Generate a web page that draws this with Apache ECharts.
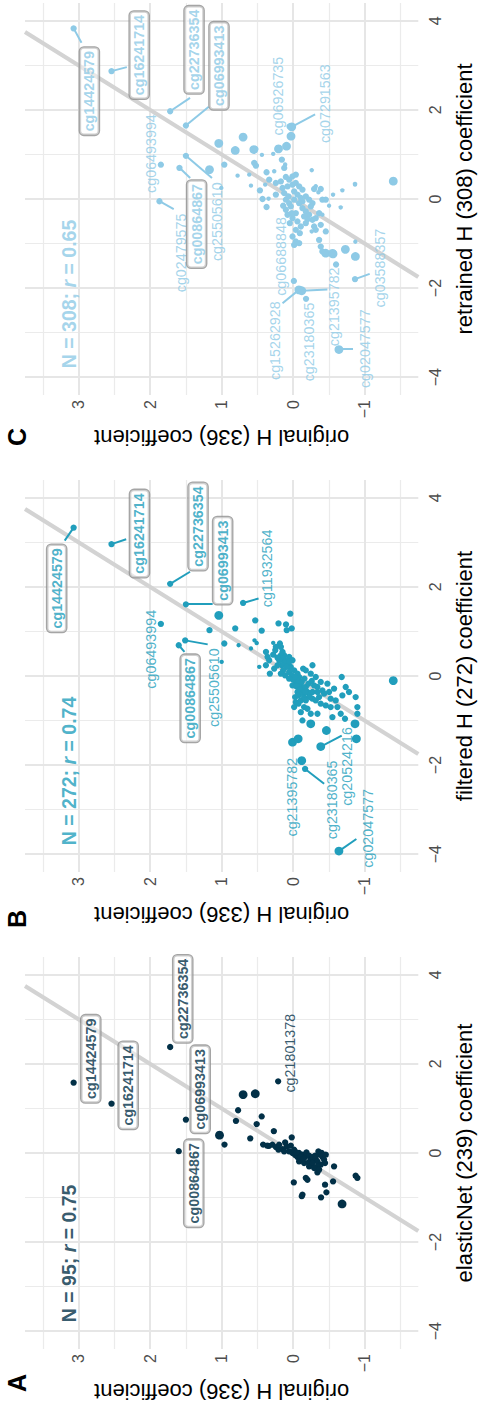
<!DOCTYPE html>
<html>
<head>
<meta charset="utf-8">
<script src="https://cdn.jsdelivr.net/npm/echarts@6/dist/echarts.min.js"></script>
<style>
html,body{margin:0;padding:0;background:#fff;}
#wrap{position:absolute;left:0;top:0;width:478px;height:1407px;overflow:hidden;background:#fff;}
#chart{position:absolute;left:0;top:0;width:1407px;height:478px;transform-origin:0 0;transform:translate(0,1407px) rotate(-90deg);}
</style>
</head>
<body>
<div id="wrap"><div id="chart"></div></div>
<script>
// ---------- DATA ----------
// Each point: [model coefficient (x), original H (336) coefficient (y), size class]
const pointsA = [
  [1.58,3.07,2],[1.11,2.54,2],[2.38,1.72,2],[0.75,1.50,2],[0.04,1.60,2],[1.61,0.21,2],
  [1.31,0.70,3],[1.33,0.53,3],[0.96,0.77,2],[0.72,0.80,2],[0.82,0.44,2],[0.65,0.51,2],
  [0.40,1.03,3],[0.19,0.96,2],[0.33,0.60,2],[0.49,0.27,2],[0.35,0.02,2],[0.19,0.42,2],
  [0.16,0.34,2],[0.186,0.29,2],[0.164,0.363,2],
  [0.134,0.242,2],[0.074,0.205,2],[0.089,0.149,2],[0.239,0.112,2],[0.149,0.089,2],[0.037,0.056,2],
  [0.0,0.009,2],[-0.045,-0.028,2],[-0.09,-0.06,2],[0.0,-0.083,2],[-0.038,-0.13,2],[-0.09,-0.167,2],
  [0.015,-0.186,2],[-0.06,-0.223,2],[-0.15,-0.246,2],[-0.09,-0.279,2],[-0.135,-0.316,2],[-0.187,-0.339,2],
  [-0.038,-0.376,2],[-0.09,-0.409,2],[-0.15,-0.432,2],[-0.225,-0.446,2],[-0.262,-0.386,2],[-0.3,-0.339,2],
  [-0.038,-0.456,2],[0.0,-0.4,2],[-0.3,-0.572,2],[-0.187,-0.083,2],[-0.225,-0.153,2],[-0.3,-0.223,2],
  [-0.56,-0.177,2],[-0.6,-0.2,2],[-0.658,-0.009,2],[-0.935,-0.13,2],[-0.97,-0.12,2],[-0.434,-0.339,2],
  [-0.71,-0.446,2],[-0.995,-0.39,2],[-0.882,-0.465,2],[-0.636,-0.558,2],[-0.509,-0.874,2],[-0.56,-0.898,2],
  [-1.144,-0.684,3],[0.037,0.126,2],[0.186,0.196,2],[0.164,0.033,2],[0.074,-0.014,2],[0.015,-0.046,2],
  [-0.09,-0.107,2],[-0.135,-0.139,2],[-0.21,-0.214,2],[-0.225,-0.27,2],[-0.337,-0.293,2],[-0.374,-0.363,2],
  [-0.06,-0.307,2],[0.037,-0.353,2]
];
const pointsB = [
  [3.33,3.07,2],[2.96,2.54,2],[2.07,1.72,2],[1.61,1.50,2],[1.64,0.70,2],[1.17,1.85,2],
  [1.36,1.04,3],[1.03,1.17,2],[1.07,0.81,2],[1.25,0.53,2],[1.02,0.44,2],[1.40,0.04,2],
  [1.18,0.205,2],[1.16,0.10,2],[1.03,0.09,2],[1.07,0.02,2],[0.80,1.51,2],[0.69,1.60,2],
  [0.73,0.963,2],[0.316,1.0,1],[0.69,0.763,1],[0.617,0.59,1],[0.80,0.54,1],[0.74,0.51,1],
  [0.204,0.474,1],[0.541,0.38,2],[0.744,0.279,1],[0.58,0.25,2],[0.73,0.186,2],[0.654,0.172,2],
  [0.54,0.149,2],[0.43,0.358,2],[0.053,0.326,2],[0.466,0.126,2],[0.43,0.056,2],[0.354,0.009,2],
  [0.354,0.102,2],[0.278,0.079,2],[0.203,0.033,2],[0.128,-0.014,2],[0.053,-0.06,2],[-0.022,-0.084,2],
  [-0.134,-0.037,2],[-0.209,0.009,2],[-0.209,-0.107,2],[-0.284,-0.13,2],[-0.247,-0.177,2],[-0.359,-0.2,2],
  [-0.359,-0.06,2],[-0.472,-0.028,2],[-0.547,-0.107,2],[-0.472,-0.153,2],[-0.397,-0.223,2],[-0.51,-0.27,2],
  [-0.547,-0.316,2],[-0.247,-0.339,2],[0.053,-0.246,2],[0.128,-0.177,2],[0.166,-0.14,2],[0.241,-0.27,2],
  [-0.022,-0.316,2],[-0.134,-0.386,2],[-0.322,-0.409,2],[-0.172,-0.479,2],[-0.359,-0.502,2],[-0.51,-0.525,2],
  [-0.284,-0.572,2],[-0.022,-0.679,2],[-0.434,-0.688,2],[-0.359,-0.781,2],[-0.247,-0.735,2],
  [-0.81,-0.107,2],[-0.697,-0.153,2],[-0.735,-0.2,2],[-0.847,-0.246,2],[-0.998,-0.13,2],[-1.073,-0.246,3],
  [-0.847,-0.34,2],[-1.223,-0.465,3],[-0.922,-0.549,2],[-0.96,-0.725,2],[-1.073,-0.865,3],[-0.847,-0.898,2],
  [-1.41,-0.884,3],[-0.472,-0.874,2],[-0.697,-0.898,2],[-1.486,0.009,3],[-1.41,-0.07,3],[-1.90,-0.12,3],
  [-2.086,-0.167,2],[-1.584,-0.386,3],[-0.104,-1.40,3],[-3.93,-0.64,3],
  [0.466,0.172,2],[0.391,0.149,2],[0.316,0.126,2],[0.354,0.195,2],[0.241,0.158,2],[0.316,0.056,2],
  [0.203,0.093,2],[0.09,0.056,2],[0.015,0.019,2],[-0.06,0.056,2],[-0.082,0.0,2],[-0.022,-0.028,2],
  [-0.112,-0.074,2],[-0.232,-0.046,2],[-0.307,-0.093,2],[-0.435,-0.074,2],[-0.382,-0.13,2],[-0.359,-0.167,2],
  [-0.134,-0.12,2],[-0.06,-0.158,2],[-0.172,-0.214,2],[-0.112,-0.26,2],[-0.209,-0.293,2],[-0.359,-0.27,2],
  [-0.472,-0.232,2],[-0.547,-0.177,2],[-0.585,-0.037,2],[-0.697,-0.014,2],[-0.622,-0.074,2],[-0.359,-0.34,2],
  [-0.472,-0.363,2],[-0.397,-0.433,2],[-0.622,-0.386,2],[-0.66,-0.456,2],[-0.697,-0.525,2],[-0.547,-0.595,2],
  [-0.697,-0.619,2],[-0.847,-0.665,2],[0.654,0.242,2],[0.48,0.279,2],[0.414,0.219,2],[0.354,0.335,2],
  [0.241,0.219,2],[0.166,0.265,2],[0.128,0.14,2],[0.053,0.172,2],[0.015,0.112,2],[0.241,0.381,2]
];
const pointsC = [
  [3.83,3.07,2],[2.87,2.54,2],[1.97,1.72,2],[1.65,1.50,2],[0.77,1.85,2],[-0.05,1.87,2],
  [0.70,1.59,2],[0.97,1.50,2],[0.66,1.17,3],[1.25,1.04,3],[1.09,0.81,3],[1.39,0.70,3],
  [1.11,0.55,3],[1.125,0.53,2],[1.62,0.02,3],[1.63,0.05,2],[1.41,0.03,3],[-1.84,-0.01,2],
  [-2.04,-0.08,3],[-2.06,-0.12,3],[-2.24,-0.18,2],[-3.38,-0.64,3],[-1.80,-0.865,2],[0.40,-1.40,3],
  [0.34,-0.865,1],[-1.29,-0.87,3],[-1.13,-0.73,3],[-1.47,-0.60,2],[-1.22,-0.55,3],[-0.96,-0.87,1],
  [0.81,0.544,2],[0.99,0.437,1],[1.013,0.279,1],[1.125,0.205,3],[1.185,0.093,3],[0.885,0.158,2],
  [0.773,0.112,1],[0.773,0.963,2],[0.247,1.005,1],[0.525,0.777,1],[0.75,0.521,2],[0.547,0.614,1],
  [0.6,0.372,2],[0.622,0.265,1],[0.697,0.125,2],[0.645,-0.26,1],[0.3,0.59,1],[0.194,0.465,2],
  [0.322,0.391,1],[0.435,0.335,2],[0.36,0.242,2],[0.397,0.172,2],[0.495,0.102,2],[0.435,0.056,2],
  [0.51,0.009,2],[0.547,-0.037,2],[0.247,0.149,2],[0.285,0.079,2],[0.322,0.009,2],[0.36,-0.037,2],
  [0.285,-0.084,2],[0.21,-0.13,2],[0.172,-0.014,2],[0.097,-0.06,2],[0.022,-0.107,2],[0.06,-0.177,2],
  [-0.015,-0.223,2],[-0.091,-0.27,2],[0.0,0.428,2],[0.007,0.344,1],[0.097,0.242,2],[-0.18,0.372,2],
  [0.225,-0.293,2],[0.285,-0.316,1],[0.225,-0.386,2],[0.15,-0.353,1],[0.194,-0.688,1],[0.322,-0.865,1],
  [0.097,-0.558,1],[-0.015,-0.409,2],[-0.015,-0.456,2],[-0.151,-0.502,1],[-0.19,-0.665,1],
  [-0.091,-0.084,2],[-0.204,-0.13,2],[-0.279,-0.177,2],[-0.354,-0.223,2],[-0.316,-0.037,2],[-0.429,0.009,2],
  [-0.504,-0.06,2],[-0.617,-0.107,2],[-0.541,-0.177,2],[-0.466,-0.27,2],[-0.429,-0.316,2],[-0.316,-0.363,2],
  [-0.354,-0.409,1],[-0.617,-0.293,2],[-0.691,-0.316,2],[-0.579,-0.386,2],[-0.729,-0.456,2],
  [-0.842,0.009,2],[-0.954,-0.037,2],[-1.03,-0.014,2],[-0.992,-0.084,2],[-0.729,-0.26,1],
  [-0.917,-0.363,2],[-1.067,-0.386,2],[-1.179,-0.409,2],[-1.217,-0.456,3],[-1.232,-0.558,3],
  [-0.016,0.102,2],[-0.091,0.056,2],[-0.166,0.033,2],[-0.016,-0.014,2],[0.059,0.065,2],[0.134,0.126,2],
  [-0.316,0.019,2],[-0.354,0.079,2],[-0.541,0.047,2],[-0.241,0.102,2],[-0.151,0.14,2],[-0.391,-0.153,2],
  [-0.451,-0.2,2],[-0.166,-0.247,2],[-0.053,-0.13,2],[-0.691,-0.037,2],[-0.767,-0.093,2]
];

// Labels: [name, label centre x, label centre y, boxed]
const labelsA = [
  ['cg14424579',2.115,2.83,true],['cg16241714',1.517,2.307,true],['cg22736354',3.46,1.544,true],
  ['cg06993413',1.43,1.30,true],['cg00864867',-0.68,1.39,true],['cg21801378',2.24,0.042,false]
];
const labelsB = [
  ['cg14424579',1.967,3.307,true],['cg16241714',3.198,2.149,true],['cg22736354',3.356,1.33,true],
  ['cg06993413',2.59,0.986,true],['cg11932564',2.416,0.367,false],['cg06493994',0.60,1.99,false],
  ['cg00864867',-0.5,1.44,true],['cg25505610',-0.26,1.107,false],['cg21395782',-2.72,0.023,false],
  ['cg23180365',-2.78,-0.549,false],['cg20524216',-2.03,-0.758,false],['cg02047577',-3.42,-1.04,false]
];
const labelsC = [
  ['cg14424579',2.42,2.85,true],['cg16241714',3.23,2.153,true],['cg22736354',3.35,1.386,true],
  ['cg06993413',2.99,1.037,true],['cg06493994',1.02,1.986,false],['cg02479575',-1.21,1.567,false],
  ['cg00864867',-0.565,1.35,true],['cg25505610',-0.51,1.065,false],['cg06926735',2.31,0.209,false],
  ['cg07291563',2.14,-0.447,false],['cg06688848',-1.29,0.172,false],['cg15262928',-3.18,0.251,false],
  ['cg23180365',-3.21,-0.223,false],['cg21395782',-2.42,-0.572,false],['cg02047577',-3.36,-1.005,false],
  ['cg03588357',-1.55,-1.219,false]
];
// Leader segments: [point x, point y, end x, end y]
const leadersA = [];
const leadersB = [
  [3.33,3.07,3.04,3.195],[2.96,2.54,3.07,2.335],[2.07,1.72,2.34,1.442],[1.61,1.50,1.61,1.126],
  [1.64,0.70,1.74,0.484],[0.69,1.60,0.54,1.52],[0.80,1.51,0.71,1.195],[-2.086,-0.167,-2.42,-0.433],
  [-1.584,-0.386,-1.34,-0.679],[-3.93,-0.64,-3.66,-0.884]
];
const leadersC = [
  [3.83,3.07,3.51,2.96],[2.87,2.54,2.96,2.326],[1.97,1.72,2.27,1.442],[1.65,1.50,2.07,1.18],
  [-0.05,1.87,-0.225,1.67],[0.70,1.59,0.47,1.44],[0.97,1.50,0.47,1.135],[1.62,0.02,1.90,-0.307],
  [-2.04,-0.08,-2.34,0.149],[-2.06,-0.12,-2.03,-0.479],[-3.38,-0.64,-3.38,-0.837],[-1.80,-0.865,-1.68,-1.07]
];
const statsN = [95, 272, 308];
const statsR = ['0.75', '0.74', '0.65'];
const xTitles = ['elasticNet (239) coefficient', 'filtered H (272) coefficient', 'retrained H (308) coefficient'];
const yTitle = 'original H (336) coefficient';
const panelTags = ['A', 'B', 'C'];
const xTicks = [-4, -2, 0, 2, 4];
const xMinor = [-3, -1, 1, 3];
const yTicks = [-1, 0, 1, 2, 3];
const yMinor = [-1.5, -0.5, 0.5, 1.5, 2.5, 3.5];

// ---------- STYLE / LAYOUT ----------
const FONT = "'Liberation Sans', Arial, Helvetica, sans-serif";
const colors = ['#023047', '#219ebc', '#8ecae6'];
const gridLefts = [58, 535, 1012];
const tagCenters = [24, 488, 970];
const GRID_TOP = 25, GRID_W = 392, GRID_H = 393.3;
const X_MIN = -4.4, X_MAX = 4.4, Y_MIN = -1.75, Y_MAX = 3.75;
const sizeMap = {1: 4.4, 2: 6.3, 3: 8.8};
const fmtNum = v => (v < 0 ? '\u2212' + Math.abs(v) : String(v));
const inList = (list, v) => list.some(t => Math.abs(t - v) < 1e-6);

const allPoints = [pointsA, pointsB, pointsC];
const allLabels = [labelsA, labelsB, labelsC];
const allLeaders = [leadersA, leadersB, leadersC];

const grid = [], xAxis = [], yAxis = [], series = [], graphic = [];

for (let i = 0; i < 3; i++) {
  const col = colors[i];
  grid.push({left: gridLefts[i], top: GRID_TOP, width: GRID_W, height: GRID_H, containLabel: false, outerBoundsMode: 'none'});
  xAxis.push({
    gridIndex: i, type: 'value', min: X_MIN, max: X_MAX,
    axisLine: {show: false}, axisTick: {show: false}, splitLine: {show: false},
    axisLabel: {color: '#4d4d4d', fontSize: 16, fontFamily: FONT, margin: 9,
      formatter: v => inList(xTicks, v) ? fmtNum(v) : ''},
    name: xTitles[i], nameLocation: 'middle', nameGap: 35,
    nameTextStyle: {color: '#000', fontSize: 22, fontFamily: FONT}
  });
  yAxis.push({
    gridIndex: i, type: 'value', min: Y_MIN, max: Y_MAX,
    axisLine: {show: false}, axisTick: {show: false}, splitLine: {show: false},
    axisLabel: {color: '#4d4d4d', fontSize: 16, fontFamily: FONT, margin: 5,
      formatter: v => inList(yTicks, v) ? fmtNum(v) : ''},
    name: yTitle, nameLocation: 'middle', nameGap: 31, nameRotate: 90,
    nameTextStyle: {color: '#000', fontSize: 22, fontFamily: FONT}
  });
  const base = {xAxisIndex: i, yAxisIndex: i, silent: true, animation: false};
  // grid lines
  const major = [], minor = [];
  xTicks.forEach(v => major.push({coords: [[v, Y_MIN], [v, Y_MAX]]}));
  yTicks.forEach(v => major.push({coords: [[X_MIN, v], [X_MAX, v]]}));
  xMinor.forEach(v => minor.push({coords: [[v, Y_MIN], [v, Y_MAX]]}));
  yMinor.forEach(v => minor.push({coords: [[X_MIN, v], [X_MAX, v]]}));
  series.push(Object.assign({type: 'lines', coordinateSystem: 'cartesian2d', z: 1, data: minor,
    lineStyle: {color: '#ebebeb', width: 1.2, opacity: 1}}, base));
  series.push(Object.assign({type: 'lines', coordinateSystem: 'cartesian2d', z: 1, data: major,
    lineStyle: {color: '#e6e6e6', width: 2, opacity: 1}}, base));
  // identity line
  series.push(Object.assign({type: 'lines', coordinateSystem: 'cartesian2d', z: 2,
    data: [{coords: [[Y_MIN, Y_MIN], [Y_MAX, Y_MAX]]}],
    lineStyle: {color: '#d3d3d3', width: 4.2, opacity: 1}}, base));
  // leader segments
  series.push(Object.assign({type: 'lines', coordinateSystem: 'cartesian2d', z: 3,
    data: allLeaders[i].map(s => ({coords: [[s[0], s[1]], [s[2], s[3]]]})),
    lineStyle: {color: col, width: 2, opacity: 1}}, base));
  // points
  series.push(Object.assign({type: 'scatter', z: 4,
    data: allPoints[i].map(p => [p[0], p[1], p[2]]),
    symbolSize: d => sizeMap[d[2]],
    itemStyle: {color: col, opacity: 1}}, base));
  // labels
  series.push(Object.assign({type: 'scatter', z: 5, symbolSize: 0.1,
    itemStyle: {color: 'rgba(0,0,0,0)'},
    data: allLabels[i].map(l => ({
      value: [l[1], l[2]], name: l[0],
      label: l[3] ? {
        show: true, position: 'inside', formatter: l[0], color: col, fontFamily: FONT,
        fontSize: 14.3, fontWeight: 'bold', backgroundColor: 'rgba(255,255,255,0.6)',
        borderColor: '#8f8f8f', borderWidth: 1.3, borderRadius: 4, padding: [3, 3.5, 2, 3.5]
      } : {
        show: true, position: 'inside', formatter: l[0], color: col, fontFamily: FONT,
        fontSize: 14.3, fontWeight: 'normal'
      }
    }))}, base));
  // N / r annotation
  series.push(Object.assign({type: 'scatter', z: 5, symbolSize: 0.1,
    itemStyle: {color: 'rgba(0,0,0,0)'},
    data: [{value: [-3.8, 3.14], label: {
      show: true, position: 'right', distance: 0,
      formatter: '{a|N = ' + statsN[i] + '; }{i|r}{a| = ' + statsR[i] + '}',
      rich: {
        a: {color: col, fontSize: 19.5, fontWeight: 'bold', fontFamily: FONT},
        i: {color: col, fontSize: 19.5, fontWeight: 'bold', fontStyle: 'italic', fontFamily: FONT}
      }
    }}]}, base));
  // panel tag
  graphic.push({type: 'text', left: tagCenters[i] - 9, top: 4, silent: true,
    style: {text: panelTags[i], fill: '#000', font: 'bold 25px ' + FONT}});
}

const chart = echarts.init(document.getElementById('chart'), null, {renderer: 'svg', width: 1407, height: 478});
chart.setOption({
  backgroundColor: '#ffffff',
  animation: false,
  grid: grid, xAxis: xAxis, yAxis: yAxis, series: series, graphic: graphic
});
</script>
</body>
</html>
